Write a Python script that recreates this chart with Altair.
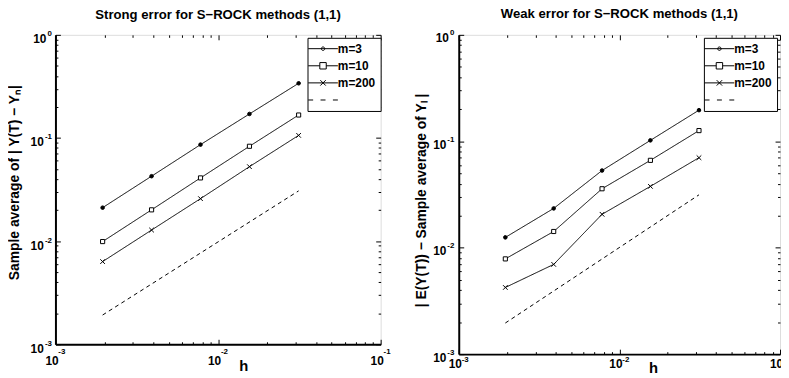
import altair as alt
import pandas as pd

FONT = "Liberation Sans"

# ---- data ----
h_values = [0.00195, 0.0039, 0.0078, 0.0156, 0.0313]
ref_h = [0.00195, 0.0313]

strong_m3 = [0.0211, 0.0426, 0.0862, 0.171, 0.339]
strong_m10 = [0.0099, 0.0201, 0.0410, 0.0831, 0.167]
strong_m200 = [0.00633, 0.0128, 0.0258, 0.0527, 0.106]
strong_ref = [0.00192, 0.0307]

weak_m3 = [0.0125, 0.0234, 0.0531, 0.102, 0.196]
weak_m10 = [0.00785, 0.0142, 0.0358, 0.0662, 0.126]
weak_m200 = [0.00423, 0.00697, 0.0206, 0.0377, 0.0701]
weak_ref = [0.00196, 0.0314]

series_names = ["m=3", "m=10", "m=200", "ref"]
marker_series = ["m=3", "m=10", "m=200"]

x_major = [0.001, 0.01, 0.1]
x_exponents = ["-3", "-2", "-1"]
y_major = [0.001, 0.01, 0.1, 1.0]
y_exponents = ["-3", "-2", "-1", "0"]
x_minor = [k * 10.0 ** e for e in (-3, -2) for k in range(2, 10)]
y_minor = [k * 10.0 ** e for e in (-3, -2, -1) for k in range(2, 10)]

CROSS = "M-1,-1L1,1M-1,1L1,-1"
LEG_PATHS = [
    "M-3,0H3M-0.35,0A0.35,0.35 0 1,1 0.35,0A0.35,0.35 0 1,1 -0.35,0Z",
    "M-3,0H-0.65M0.65,0H3M-0.65,-0.65H0.65V0.65H-0.65Z",
    "M-3,0H3M-0.55,-0.55L0.55,0.55M-0.55,0.55L0.55,-0.55",
    "M-3,0H-2M-0.5,0H0.5M2,0H3",
]


def make_df(m3, m10, m200, ref):
    rows = []
    for name, vals in zip(marker_series, [m3, m10, m200]):
        for h, v in zip(h_values, vals):
            rows.append({"series": name, "h": h, "err": v})
    for h, v in zip(ref_h, ref):
        rows.append({"series": "ref", "h": h, "err": v})
    return pd.DataFrame(rows)


def label_expr(values, labels):
    expr = "''"
    for v, l in reversed(list(zip(values, labels))):
        expr = f"abs(datum.value - {v}) < {v * 1e-4} ? '{l}' : ({expr})"
    return expr


def tick_axis(orient, values, size):
    return alt.Axis(orient=orient, values=values, labels=False, ticks=True,
                    tickSize=size, tickColor="black", tickWidth=1,
                    domain=False, grid=False, title=None, offset=-size,
                    minExtent=0, maxExtent=0)


LAB = dict(labelFont=FONT, labelFontWeight="bold", labelColor="black",
           labelFlush=False, labelOverlap=False, labelBaseline="alphabetic",
           grid=False, ticks=False, tickSize=0)


def panel(df, title, ytitle, width, height, xl, yl, xt, yt, lx, ly):
    xs = alt.Scale(type="log", domain=[0.001, 0.1], nice=False)
    ys = alt.Scale(type="log", domain=[0.001, 1.0], nice=False)

    # "10" part of the tick labels + axis titles
    main_x = alt.Axis(orient="bottom", values=x_major, labelExpr="'10'",
                      domain=True, domainWidth=2, domainColor="black",
                      labelFontSize=12, labelPadding=xl[0], labelOffset=-4,
                      labelAlign="center",
                      title="h", titleFont=FONT, titleFontSize=15,
                      titleFontWeight="bold", titleColor="black",
                      titleX=xt[0], titleY=xt[1], titleAlign="center",
                      titleBaseline="alphabetic", **LAB)
    main_y = alt.Axis(orient="left", values=y_major, labelExpr="'10'",
                      domain=True, domainWidth=2, domainColor="black",
                      labelFontSize=12, labelAlign="right",
                      labelPadding={"condition": {"test": "datum.value > 0.5",
                                                  "value": yl[0] - 2.6},
                                    "value": yl[0]},
                      labelOffset=yl[1],
                      title=ytitle, titleFont=FONT, titleFontSize=14,
                      titleFontWeight="bold", titleColor="black",
                      titleX=yt[0], titleY=yt[1], titleAlign="center",
                      titleBaseline="middle", titleAngle=270, **LAB)
    # exponent part of the tick labels
    sup_x = alt.Axis(orient="bottom", values=x_major,
                     labelExpr=label_expr(x_major, x_exponents),
                     domain=False, labelFontSize=8, labelPadding=xl[1],
                     labelOffset=6, labelAlign="center", title=None,
                     minExtent=0, **LAB)
    sup_y = alt.Axis(orient="left", values=y_major,
                     labelExpr=label_expr(y_major, y_exponents),
                     domain=False, labelFontSize=8, labelPadding=yl[2],
                     labelOffset=yl[1] - 7, labelAlign="right", title=None,
                     minExtent=0, **LAB)

    lines = alt.Chart(df).mark_line(color="black", strokeWidth=1).encode(
        x=alt.X("h:Q", scale=xs, axis=main_x),
        y=alt.Y("err:Q", scale=ys, axis=main_y),
        detail="series:N",
        strokeDash=alt.StrokeDash(
            "series:N",
            scale=alt.Scale(domain=series_names,
                            range=[[1, 0], [1, 0], [1, 0], [4, 3.5]]),
            legend=None),
    )

    pts = alt.Chart(df).transform_filter(
        alt.FieldOneOfPredicate(field="series", oneOf=marker_series)
    ).mark_point(filled=True, stroke="black", strokeWidth=1,
                 opacity=1).encode(
        x=alt.X("h:Q", scale=xs, axis=tick_axis("bottom", x_major, 5)),
        y=alt.Y("err:Q", scale=ys, axis=tick_axis("left", y_major, 5)),
        shape=alt.Shape("series:N",
                        scale=alt.Scale(domain=marker_series,
                                        range=["circle", "square", CROSS]),
                        legend=None),
        fill=alt.Fill("series:N",
                      scale=alt.Scale(domain=marker_series,
                                      range=["black", "white", "black"]),
                      legend=None),
        size=alt.Size("series:N",
                      scale=alt.Scale(domain=marker_series, range=[13, 22, 18]),
                      legend=None),
    )

    leg = alt.Legend(orient="none", legendX=lx, legendY=ly, title=None,
                     strokeColor="black", fillColor="white", padding=5,
                     labelFont=FONT, labelFontSize=12, labelFontWeight="bold",
                     labelColor="black", symbolStrokeColor="black",
                     symbolFillColor="transparent",
                     symbolStrokeWidth=1, symbolOpacity=1, rowPadding=5.3,
                     labelOffset=9, symbolOffset=4.7,
                     labelExpr="datum.label == 'ref' ? '' : datum.label")

    # legend-only layer: its points are pushed outside the x domain and clipped
    legend_layer = alt.Chart(df).transform_calculate(
        hx="datum.h * 0.0001"
    ).mark_point(
        filled=False, stroke="black", strokeWidth=1, size=59, opacity=1,
        clip=True
    ).encode(
        x=alt.X("hx:Q", scale=xs, axis=tick_axis("bottom", x_minor, 2.5)),
        y=alt.Y("err:Q", scale=ys, axis=tick_axis("left", y_minor, 2.5)),
        shape=alt.Shape("series:N",
                        scale=alt.Scale(domain=series_names, range=LEG_PATHS),
                        legend=leg),
    )

    top_major = alt.Chart(df).mark_line(opacity=0).encode(
        x=alt.X("h:Q", scale=xs, axis=tick_axis("top", x_major, 5)),
        y=alt.Y("err:Q", scale=ys, axis=tick_axis("right", y_major, 5)),
        detail="series:N",
    )
    top_minor = alt.Chart(df).mark_line(opacity=0).encode(
        x=alt.X("h:Q", scale=xs, axis=tick_axis("top", x_minor, 2.5)),
        y=alt.Y("err:Q", scale=ys, axis=tick_axis("right", y_minor, 2.5)),
        detail="series:N",
    )
    sup_layer = alt.Chart(df).mark_line(opacity=0).encode(
        x=alt.X("h:Q", scale=xs, axis=sup_x),
        y=alt.Y("err:Q", scale=ys, axis=sup_y),
        detail="series:N",
    )

    return alt.layer(lines, pts, legend_layer, top_major, top_minor,
                     sup_layer).resolve_axis(
        x="independent", y="independent"
    ).resolve_scale(
        shape="independent", fill="independent", strokeDash="independent",
        size="independent"
    ).properties(
        width=width, height=height,
        title=alt.TitleParams(title, font=FONT, fontSize=13.3, fontWeight="bold",
                              color="black", anchor="middle", frame="group",
                              baseline="alphabetic", offset=-2),
    )


strong_df = make_df(strong_m3, strong_m10, strong_m200, strong_ref)
weak_df = make_df(weak_m3, weak_m10, weak_m200, weak_ref)

left = panel(strong_df, "Strong error for S−ROCK methods (1,1)",
             "Sample average of | Y(T) − Yₙ|", 329, 313,
             xl=(21, 9), yl=(12.3, 8, 4), xt=(190, 27), yt=(-41, 149),
             lx=255, ly=3)
right = panel(weak_df, "Weak error for S−ROCK methods (1,1)",
              "| E(Y(T)) − Sample average of Yₗ |", 325, 323,
              xl=(13.5, 7), yl=(13, 7, 5), xt=(196.5, 19), yt=(-38, 167),
              lx=248, ly=3)

chart = alt.hconcat(left, right, spacing=22).properties(
    padding={"left": -1, "top": -4, "right": -10, "bottom": 0}
).configure_view(stroke="black", strokeWidth=1, fill="white").configure(
    background="white"
)

chart.save("out.html", embed_options={"renderer": "svg", "actions": False})
